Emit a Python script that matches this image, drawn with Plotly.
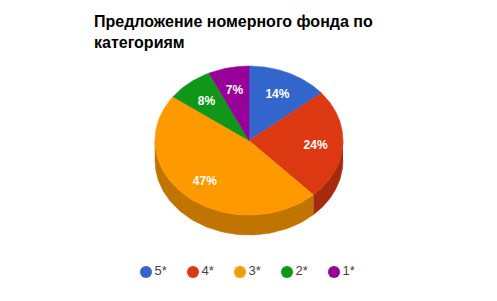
import numpy as np
import plotly.graph_objects as go

categories = ["5*", "4*", "3*", "2*", "1*"]
values = [14, 24, 47, 8, 7]
top_colors = ["#3366cc", "#dc3912", "#ff9900", "#109618", "#990099"]
side_colors = ["#264d99", "#a62b0e", "#c27400", "#0c7112", "#730073"]
title_text = "Предложение номерного фонда по<br>категориям"

W, H = 497, 301
cx_px, cy_px, rx_px, ry_px, depth_px = 249, 140.5, 94, 74.5, 20
depth = depth_px / ry_px
label_r = 0.71

total = sum(values)
fracs = np.array(values) / total
ends = np.cumsum(fracs) * 2 * np.pi
starts = ends - fracs * 2 * np.pi

fig = go.Figure()

# side faces (front half only)
for i in range(len(values)):
    a0 = max(starts[i], np.pi / 2)
    a1 = min(ends[i], 3 * np.pi / 2)
    if a1 <= a0:
        continue
    t = np.linspace(a0, a1, 80)
    xs = np.concatenate([np.sin(t), np.sin(t[::-1])])
    ys = np.concatenate([np.cos(t), np.cos(t[::-1]) - depth])
    fig.add_trace(go.Scatter(x=xs, y=ys, fill="toself", mode="lines",
                             fillcolor=side_colors[i],
                             line=dict(color=side_colors[i], width=0.5),
                             hoverinfo="skip", showlegend=False))

# top faces
for i in range(len(values)):
    t = np.linspace(starts[i], ends[i], 120)
    xs = np.concatenate([[0], np.sin(t), [0]])
    ys = np.concatenate([[0], np.cos(t), [0]])
    fig.add_trace(go.Scatter(x=xs, y=ys, fill="toself", mode="lines",
                             fillcolor=top_colors[i],
                             line=dict(color=top_colors[i], width=0.5),
                             hoverinfo="skip", showlegend=False))

# labels
mids = (starts + ends) / 2
labels = [f"{round(v / total * 100)}%" for v in values]
fig.add_trace(go.Scatter(x=label_r * np.sin(mids), y=label_r * np.cos(mids) - 0.03,
                         mode="text", text=labels,
                         textfont=dict(family="Arial, Liberation Sans", size=12, color="white", weight="bold"),
                         hoverinfo="skip", showlegend=False))

# legend drawn on its own category axis
fig.add_trace(go.Scatter(x=categories, y=[0] * len(categories), xaxis="x2", yaxis="y2",
                         mode="markers+text", text=categories, textposition="middle right",
                         marker=dict(symbol="circle", size=12, color=top_colors),
                         textfont=dict(family="Arial, Liberation Sans", size=13, color="#444444"),
                         cliponaxis=False, hoverinfo="skip", showlegend=False))

xr = [-cx_px / rx_px, (W - cx_px) / rx_px]
yr = [-(H - cy_px) / ry_px, cy_px / ry_px]

leg_step, leg_center, leg_y = 47, 240, 272
n = len(categories)
leg_dom = [(leg_center - n * leg_step / 2) / W, (leg_center + n * leg_step / 2) / W]

fig.update_layout(
    width=W, height=H,
    margin=dict(l=0, r=0, t=0, b=0),
    paper_bgcolor="white", plot_bgcolor="white",
    xaxis=dict(range=xr, visible=False, fixedrange=True),
    yaxis=dict(range=yr, visible=False, fixedrange=True),
    xaxis2=dict(domain=leg_dom, type="category", range=[-0.5, n - 0.5], visible=False,
                fixedrange=True, anchor="y2"),
    yaxis2=dict(domain=[1 - (leg_y + 10) / H, 1 - (leg_y - 10) / H], range=[-1, 1],
                visible=False, fixedrange=True, anchor="x2"),
    title=dict(text=title_text, x=94 / W, xanchor="left", xref="paper",
               y=1 - 27 / H, yanchor="top", yref="container",
               font=dict(family="Arial, Liberation Sans", size=16, color="#000000", weight="bold")),
    showlegend=False,
)

fig.write_html("out.html")
